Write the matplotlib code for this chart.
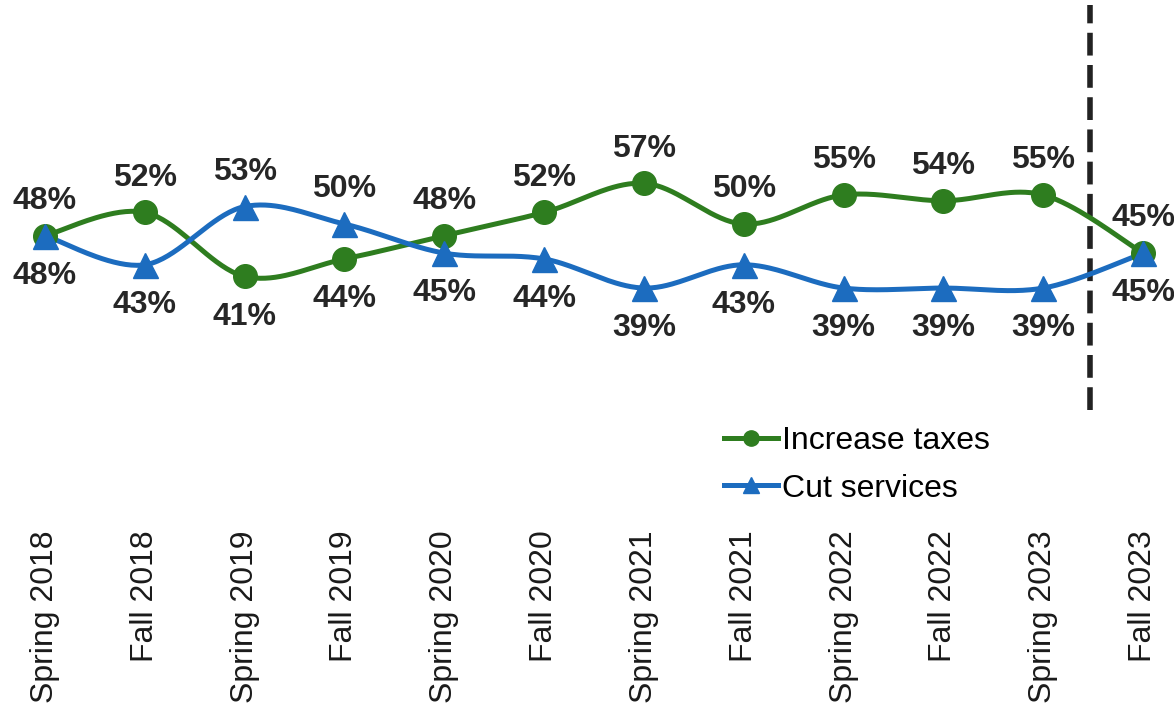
import numpy as np
import matplotlib
matplotlib.use("Agg")
import matplotlib.pyplot as plt
from matplotlib.lines import Line2D

plt.rcParams['font.family'] = ['Liberation Sans', 'DejaVu Sans']

# survey waves and shares (%)
waves = ["Spring 2018", "Fall 2018", "Spring 2019", "Fall 2019", "Spring 2020",
         "Fall 2020", "Spring 2021", "Fall 2021", "Spring 2022", "Fall 2022",
         "Spring 2023", "Fall 2023"]
increase_taxes = [48, 52, 41, 44, 48, 52, 57, 50, 55, 54, 55, 45]
cut_services = [48, 43, 53, 50, 45, 44, 39, 43, 39, 39, 39, 45]

GREEN = "#2e7d1f"
BLUE = "#1c6cbf"


def smooth(xs, ys, n=40):
    # bezier segments with catmull-rom style control points
    p = np.column_stack([xs, ys]).astype(float)
    out = []
    for i in range(len(p) - 1):
        p0 = p[i - 1] if i > 0 else p[i]
        p1, p2 = p[i], p[i + 1]
        p3 = p[i + 2] if i + 2 < len(p) else p[i + 1]
        c1 = p1 + (p2 - p0) / 6.0
        c2 = p2 - (p3 - p1) / 6.0
        t = np.linspace(0, 1, n)[:, None]
        seg = ((1 - t) ** 3) * p1 + 3 * ((1 - t) ** 2) * t * c1 + 3 * (1 - t) * t ** 2 * c2 + t ** 3 * p2
        out.append(seg if i == 0 else seg[1:])
    out = np.vstack(out)
    return out[:, 0], out[:, 1]


fig = plt.figure(figsize=(11.74, 7.04), dpi=100)
ax = fig.add_axes([0, 1 - 515 / 704, 1, 515 / 704])
x = np.arange(len(waves))

for vals, col, mk, ms in [(increase_taxes, GREEN, "o", 17), (cut_services, BLUE, "^", 18)]:
    sx, sy = smooth(x, vals)
    ax.plot(sx, sy, color=col, lw=3.6, solid_capstyle="round", zorder=3)
    ax.plot(x, vals, ls="none", marker=mk, ms=ms, color=col, zorder=4)

# value labels: higher series above, lower series below
for i in x:
    g, b = increase_taxes[i], cut_services[i]
    g_up = g >= b
    for v, up in [(g, g_up), (b, not g_up)]:
        ax.annotate(f"{v}%", (i, v), xytext=(0, 25 if up else -29), textcoords="offset points",
                    ha="center", va="center", fontsize=23, fontweight="bold", color="#262626", zorder=5)

# separator before the latest wave
ax.plot([10.47, 10.47], [18.1, 87.7], color="#222222", lw=4, ls=(0, (4.1, 1.7)), zorder=2)

ax.set_xlim(-0.451, 11.31)
ax.set_ylim(0, 88.5)
ax.set_xticks(x)
ax.set_xticklabels(waves, rotation=90, fontsize=23, color="#1a1a1a")
ax.tick_params(axis="x", length=0, pad=11)
ax.set_yticks([])
for s in ax.spines.values():
    s.set_visible(False)

handles = [Line2D([], [], color=GREEN, lw=3.6, marker="o", ms=11),
           Line2D([], [], color=BLUE, lw=3.6, marker="^", ms=11)]
fig.legend(handles, ["Increase taxes", "Cut services"], loc="upper left",
           bbox_to_anchor=(724 / 1174, 1 - 426 / 704), frameon=False, fontsize=23,
           handlelength=1.7, handletextpad=0.12, labelspacing=0.55, borderpad=0, borderaxespad=0)

fig.savefig("out.png", dpi=100)
